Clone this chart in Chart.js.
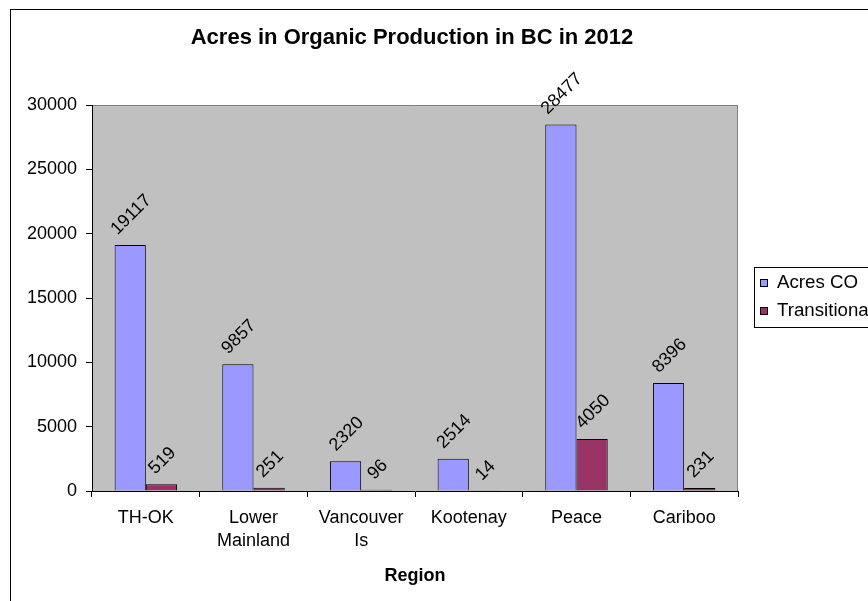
<!DOCTYPE html>
<html>
<head>
<meta charset="utf-8">
<script src="https://cdn.jsdelivr.net/npm/chart.js@4/dist/chart.umd.min.js"></script>
<style>
  html, body { margin: 0; padding: 0; background: #fff; }
  #wrap { width: 868px; height: 601px; }
</style>
</head>
<body>
<div id="wrap"><canvas id="organic" width="868" height="601"></canvas></div>
<script>
const regions = [
  'TH-OK',
  ['Lower', 'Mainland'],
  ['Vancouver', 'Is'],
  'Kootenay',
  'Peace',
  'Cariboo',
]
const acresCO = [19117, 9857, 2320, 2514, 28477, 8396]
const transitional = [519, 251, 96, 14, 4050, 231]
const seriesNames = ['Acres CO', 'Transitional']
const yTicks = [0, 5000, 10000, 15000, 20000, 25000, 30000]

const FONT = '"Liberation Sans", Arial, sans-serif'
const titleText = 'Acres in Organic Production in BC in 2012'

// background, outer frame, grey plot area and title
const chartFrame = {
  id: 'chartFrame',
  beforeDraw(chart) {
    const {
      ctx,
      chartArea: { left, top, right, bottom },
    } = chart
    ctx.save()
    ctx.fillStyle = '#fff'
    ctx.fillRect(0, 0, chart.width, chart.height)
    ctx.strokeStyle = '#000'
    ctx.lineWidth = 1
    ctx.strokeRect(10.5, 9.5, 1000, 800)
    ctx.fillStyle = '#c0c0c0'
    ctx.fillRect(left, top, right - left, bottom - top)
    ctx.strokeStyle = '#808080'
    ctx.beginPath()
    ctx.moveTo(left, top + 0.5)
    ctx.lineTo(right - 0.5, top + 0.5)
    ctx.lineTo(right - 0.5, bottom)
    ctx.stroke()
    ctx.fillStyle = '#000'
    ctx.font = 'bold 22px ' + FONT
    ctx.textAlign = 'center'
    ctx.textBaseline = 'middle'
    ctx.fillText(titleText, 412, 38)
    ctx.restore()
  },
}

// rotated value labels above each bar
const barLabels = {
  id: 'barLabels',
  afterDatasetsDraw(chart) {
    const { ctx } = chart
    ctx.save()
    ctx.font = '18px ' + FONT
    ctx.fillStyle = '#000'
    ctx.textAlign = 'center'
    ctx.textBaseline = 'middle'
    chart.data.datasets.forEach((ds, i) => {
      const meta = chart.getDatasetMeta(i)
      meta.data.forEach((bar, j) => {
        const txt = String(ds.data[j])
        const w = ctx.measureText(txt).width
        const cy = bar.y - (w * 0.354 + 13)
        ctx.save()
        ctx.translate(bar.x + 1, cy)
        ctx.rotate(-Math.PI / 4)
        ctx.fillText(txt, 0, 0)
        ctx.restore()
      })
    })
    ctx.restore()
  },
}

// boxed legend on the right, cut off by the page edge like the original
const sideLegend = {
  id: 'sideLegend',
  afterDraw(chart) {
    const { ctx } = chart
    ctx.save()
    ctx.strokeStyle = '#000'
    ctx.lineWidth = 1
    ctx.fillStyle = '#fff'
    ctx.fillRect(754, 267, 200, 60)
    ctx.strokeRect(754.5, 267.5, 200, 60)
    ctx.font = '18.7px ' + FONT
    ctx.textBaseline = 'middle'
    ctx.textAlign = 'left'
    chart.data.datasets.forEach((ds, i) => {
      const y = 283 + i * 28
      ctx.fillStyle = ds.backgroundColor
      ctx.fillRect(760, y - 4, 7, 7)
      ctx.strokeRect(760.5, y - 3.5, 7, 7)
      ctx.fillStyle = '#000'
      ctx.fillText(ds.label, 777, y)
    })
    ctx.restore()
  },
}

const ctx = document.getElementById('organic').getContext('2d')
// eslint-disable-next-line no-unused-vars
const myChart = new Chart(ctx, {
  type: 'bar',
  data: {
    labels: regions,
    datasets: [
      {
        label: seriesNames[0],
        data: acresCO,
        backgroundColor: '#9999ff',
        borderColor: '#000',
        borderWidth: 1,
        barPercentage: 1,
        categoryPercentage: 0.58,
      },
      {
        label: seriesNames[1],
        data: transitional,
        backgroundColor: '#993366',
        borderColor: '#000',
        borderWidth: 1,
        barPercentage: 1,
        categoryPercentage: 0.58,
      },
    ],
  },
  options: {
    responsive: false,
    animation: false,
    layout: {
      padding: { left: 10, right: 130, top: 105, bottom: 0 },
    },
    scales: {
      x: {
        afterFit: (scale) => {
          scale.height = 110
        },
        grid: {
          drawOnChartArea: false,
          color: '#000',
          tickLength: 6,
          offset: true,
        },
        border: { color: '#000' },
        ticks: {
          color: '#000',
          padding: 10,
          font: { family: FONT, size: 18, lineHeight: 1.25 },
          maxRotation: 0,
          autoSkip: false,
        },
        title: {
          display: true,
          text: 'Region',
          color: '#000',
          font: { family: FONT, size: 18, weight: 'bold', lineHeight: 1.2 },
          padding: { top: 0, bottom: 14 },
        },
      },
      y: {
        min: 0,
        max: 30000,
        afterFit: (scale) => {
          scale.width = 82
        },
        afterBuildTicks: (scale) => {
          scale.ticks = yTicks.map((v) => ({ value: v }))
        },
        grid: {
          drawOnChartArea: false,
          color: '#000',
          tickLength: 6,
        },
        border: { color: '#000' },
        ticks: {
          color: '#000',
          padding: 9,
          callback: (value) => String(value),
          font: { family: FONT, size: 18 },
        },
      },
    },
    plugins: {
      legend: false,
      tooltip: false,
      title: { display: false },
    },
  },
  plugins: [chartFrame, barLabels, sideLegend],
})
</script>
</body>
</html>
